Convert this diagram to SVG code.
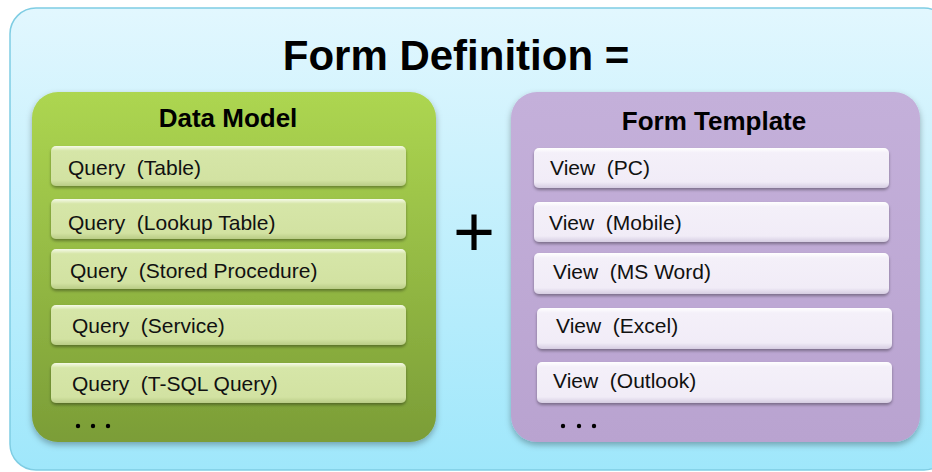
<svg xmlns="http://www.w3.org/2000/svg" width="932" height="472" viewBox="0 0 932 472">
<defs>
<linearGradient id="bg" x1="0" y1="0" x2="0" y2="1">
<stop offset="0" stop-color="#e2f7fe"/><stop offset="1" stop-color="#9fe7fb"/>
</linearGradient>
<linearGradient id="green" x1="0" y1="0" x2="0" y2="1">
<stop offset="0" stop-color="#add651"/><stop offset="1" stop-color="#7b9d37"/>
</linearGradient>
<linearGradient id="purple" x1="0" y1="0" x2="0" y2="1">
<stop offset="0" stop-color="#c4b0da"/><stop offset="1" stop-color="#b9a3d0"/>
</linearGradient>
<linearGradient id="grow" x1="0" y1="0" x2="0" y2="1">
<stop offset="0" stop-color="#f6fae9"/><stop offset="0.12" stop-color="#d6e6a8"/><stop offset="0.85" stop-color="#d2e2a2"/><stop offset="1" stop-color="#b9cc86"/>
</linearGradient>
<linearGradient id="prow" x1="0" y1="0" x2="0" y2="1">
<stop offset="0" stop-color="#ffffff"/><stop offset="0.12" stop-color="#f4f0f9"/><stop offset="0.85" stop-color="#f1ecf7"/><stop offset="1" stop-color="#d6cde2"/>
</linearGradient>
<filter id="sh" x="-10%" y="-10%" width="120%" height="140%">
<feDropShadow dx="0" dy="2" stdDeviation="1.5" flood-color="#000" flood-opacity="0.35"/>
</filter>
<filter id="shBig" x="-10%" y="-10%" width="120%" height="120%">
<feDropShadow dx="0" dy="3" stdDeviation="3" flood-color="#000" flood-opacity="0.3"/>
</filter>
</defs>
<style>
.title{font-family:"Liberation Sans",Arial,sans-serif;font-weight:bold;font-size:42px;fill:#000}
.head{font-family:"Liberation Sans",Arial,sans-serif;font-weight:bold;font-size:26px;fill:#000;text-anchor:middle}
.item{font-family:"Liberation Sans",Arial,sans-serif;font-size:21px;fill:#111;white-space:pre}
.grow{fill:url(#grow);filter:url(#sh)}
.prow{fill:url(#prow);filter:url(#sh)}
.dot{fill:#000}
</style>
<rect x="10" y="8" width="940" height="462" rx="26" fill="url(#bg)" stroke="#7fcde3" stroke-width="1.5"/>
<text class="title" x="456" y="70" text-anchor="middle">Form Definition =</text>
<text x="474" y="256" font-family="Liberation Sans,Arial,sans-serif" font-size="72" text-anchor="middle" fill="#000">+</text>

<g id="data-model">
<rect x="32" y="92" width="404" height="350" rx="26" fill="url(#green)" filter="url(#shBig)"/>
<text class="head" x="228" y="127">Data Model</text>
<g id="q-table"><rect class="grow" x="51" y="146" width="355" height="40" rx="5"/><text class="item" x="68" y="175">Query  (Table)</text></g>
<g id="q-lookup"><rect class="grow" x="51" y="199" width="355" height="40" rx="5"/><text class="item" x="68" y="230">Query  (Lookup Table)</text></g>
<g id="q-stored"><rect class="grow" x="51" y="249" width="355" height="40" rx="5"/><text class="item" x="70" y="278">Query  (Stored Procedure)</text></g>
<g id="q-service"><rect class="grow" x="51" y="305" width="355" height="40" rx="5"/><text class="item" x="72" y="333">Query  (Service)</text></g>
<g id="q-tsql"><rect class="grow" x="51" y="363" width="355" height="40" rx="5"/><text class="item" x="72" y="391">Query  (T-SQL Query)</text></g>
<circle class="dot" cx="78" cy="426" r="2.2"/><circle class="dot" cx="93" cy="426" r="2.2"/><circle class="dot" cx="108" cy="426" r="2.2"/>
</g>

<g id="form-template">
<rect x="511" y="92" width="409" height="350" rx="26" fill="url(#purple)" filter="url(#shBig)"/>
<text class="head" x="714" y="130">Form Template</text>
<g id="v-pc"><rect class="prow" x="534" y="148" width="355" height="40" rx="5"/><text class="item" x="550" y="175">View  (PC)</text></g>
<g id="v-mobile"><rect class="prow" x="534" y="202" width="355" height="40" rx="5"/><text class="item" x="549" y="230">View  (Mobile)</text></g>
<g id="v-word"><rect class="prow" x="534" y="253" width="355" height="41" rx="5"/><text class="item" x="553" y="279">View  (MS Word)</text></g>
<g id="v-excel"><rect class="prow" x="537" y="308" width="355" height="41" rx="5"/><text class="item" x="556" y="333">View  (Excel)</text></g>
<g id="v-outlook"><rect class="prow" x="537" y="362" width="355" height="41" rx="5"/><text class="item" x="553" y="388">View  (Outlook)</text></g>
<circle class="dot" cx="563" cy="426" r="2.2"/><circle class="dot" cx="579" cy="426" r="2.2"/><circle class="dot" cx="594" cy="426" r="2.2"/>
</g>
</svg>
